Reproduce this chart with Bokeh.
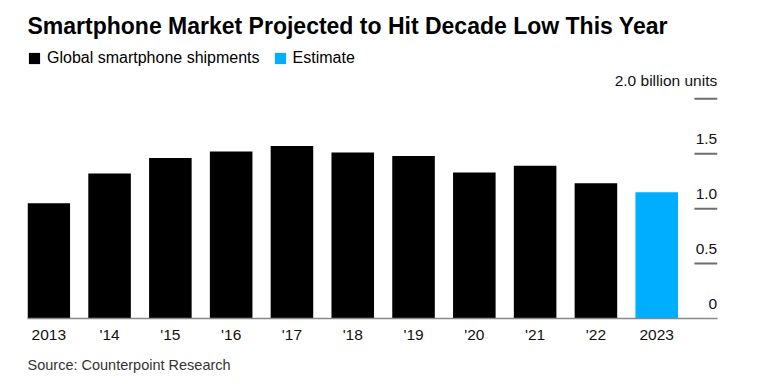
from bokeh.plotting import figure
from bokeh.models import Range1d, FixedTicker, Legend, LegendItem, Title
from bokeh.embed import file_html
from bokeh.resources import INLINE

# ---- data ----
years = ["2013", "'14", "'15", "'16", "'17", "'18", "'19", "'20", "'21", "'22", "2023"]
shipments = [1.05, 1.32, 1.46, 1.52, 1.57, 1.51, 1.48, 1.33, 1.39, 1.23, 1.15]
is_estimate = [False] * 10 + [True]
ytick_vals = [0, 0.5, 1.0, 1.5, 2.0]
ytick_labels = ["0", "0.5", "1.0", "1.5", "2.0 billion units"]

FONT = "Liberation Sans"
BLACK = "#000000"
BLUE = "#00aeff"

x_idx = list(range(len(years)))
hist_x = [x for x, e in zip(x_idx, is_estimate) if not e]
hist_y = [v for v, e in zip(shipments, is_estimate) if not e]
est_x = [x for x, e in zip(x_idx, is_estimate) if e]
est_y = [v for v, e in zip(shipments, is_estimate) if e]

X_END = 11.0
p = figure(width=762, height=384, output_backend="svg", toolbar_location=None,
           x_range=Range1d(-0.35, X_END), y_range=Range1d(0, 2.485),
           min_border_left=27, min_border_right=45, min_border_top=45,
           min_border_bottom=66)

p.outline_line_color = None
p.grid.visible = False
p.yaxis.visible = False

r_hist = p.vbar(x=hist_x, top=hist_y, width=0.7, fill_color=BLACK, line_color=None)
r_est = p.vbar(x=est_x, top=est_y, width=0.7, fill_color=BLUE, line_color=None)

# right-hand value ticks (short lines) and labels above them
tick_len = 0.38
p.segment(x0=[X_END - tick_len] * (len(ytick_vals) - 1), x1=[X_END] * (len(ytick_vals) - 1),
          y0=ytick_vals[1:], y1=ytick_vals[1:], line_color="#6e6e6e", line_width=2)
p.text(x=[X_END - 0.005] * len(ytick_vals), y=ytick_vals, text=ytick_labels,
       text_align="right", text_baseline="bottom", y_offset=-10,
       text_font={"value": FONT}, text_font_size="15.5px", text_color="#111111")

# x axis
xa = p.xaxis[0]
xa.ticker = FixedTicker(ticks=x_idx)
xa.major_label_overrides = {i: y for i, y in zip(x_idx, years)}
xa.major_tick_line_color = None
xa.minor_tick_line_color = None
xa.axis_line_color = "#888888"
xa.axis_line_width = 1.5
xa.major_label_text_font = FONT
xa.major_label_text_font_size = "15.5px"
xa.major_label_text_color = "#111111"
xa.major_label_standoff = 1

# title
p.title.text = "Smartphone Market Projected to Hit Decade Low This Year"
p.title.text_font = FONT
p.title.text_font_size = "23px"
p.title.text_font_style = "bold"
p.title.text_color = "#000000"
p.title.align = "left"
p.title.standoff = 14

legend = Legend(items=[LegendItem(label="Global smartphone shipments", renderers=[r_hist]),
                       LegendItem(label="Estimate", renderers=[r_est])],
                orientation="horizontal", location=(0, 251),
                glyph_width=14, glyph_height=14, label_standoff=6, spacing=13,
                padding=0, margin=0, border_line_alpha=0, background_fill_alpha=0,
                label_text_font=FONT, label_text_font_size="16px", label_text_color="#000000")
p.add_layout(legend)

p.add_layout(Title(text="Source: Counterpoint Research", align="left", text_font=FONT,
                   text_font_size="14.5px", text_font_style="normal", text_color="#333333",
                   standoff=19),
             "below")

open("out.html", "w").write(file_html(p, INLINE))
